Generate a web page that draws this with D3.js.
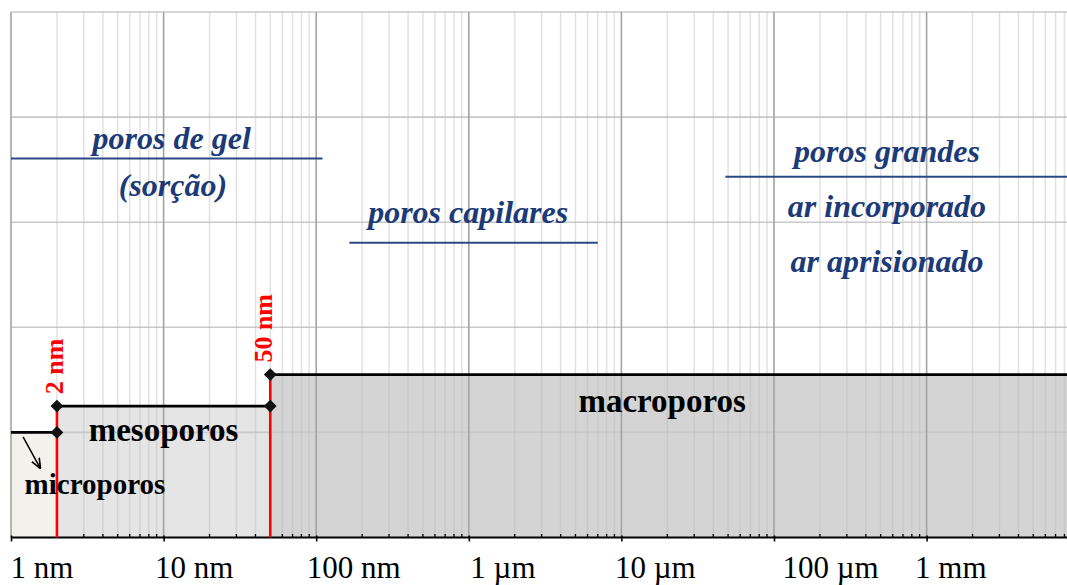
<!DOCTYPE html>
<html>
<head>
<meta charset="utf-8">
<script src="https://cdn.jsdelivr.net/npm/d3@7"></script>
<style>
  html, body { margin: 0; padding: 0; background: #ffffff; }
  svg { display: block; }
</style>
</head>
<body>
<svg id="chart" width="1067" height="585"></svg>
<script>
// Pore size classes (sizes in nm) and the step height of each band
const classNames  = ["microporos", "mesoporos", "macroporos"];
const classStart  = [1, 2, 50];
const classEnd    = [2, 50, 1e7];
const classLevel  = [1, 1.25, 1.55];
const classFill   = ["#f2f1eb", "#e5e5e5", "#d4d4d4"];

// Class boundaries marked in red
const boundaryValues = [2, 50];
const boundaryLabels = ["2 nm", "50 nm"];

// Axis ticks
const tickValues = [1, 10, 100, 1e3, 1e4, 1e5, 1e6];
const tickLabels = ["1 nm", "10 nm", "100 nm", "1 µm", "10 µm", "100 µm", "1 mm"];

// Descriptive zones (underlined titles in blue)
const zoneNames = ["poros de gel", "poros capilares", "poros grandes"];
const zoneFrom  = [1, 165, 48000];
const zoneTo    = [110, 7000, 1e7];

const svg = d3.select("#chart");
const W = 1067, H = 585;
const x0 = 11, decade = 152.6;

const x = d3.scaleLog().domain([1, 1e7]).range([x0, x0 + 7 * decade]);
const y = d3.scaleLinear().domain([0, 5]).range([537.5, 12]);

const serif = "'Liberation Serif', 'Times New Roman', serif";
const blue = "#1c3a78";

const plot = svg.append("g");
plot.append("clipPath").attr("id", "clip")
  .append("rect").attr("x", 0).attr("y", 0).attr("width", W).attr("height", H);

// Bands
plot.selectAll("rect.band")
  .data(classNames.map((n, i) => ({ n, s: classStart[i], e: classEnd[i], v: classLevel[i], f: classFill[i] })))
  .join("rect")
  .attr("class", "band")
  .attr("x", d => x(d.s))
  .attr("width", d => Math.min(x(d.e), W) - x(d.s))
  .attr("y", d => y(d.v))
  .attr("height", d => y(0) - y(d.v))
  .attr("fill", d => d.f);

// Grid: minor and major verticals, horizontal lines
const allTicks = [];
for (let p = 0; p < 7; p++) {
  for (let m = 1; m <= 9; m++) allTicks.push(m * Math.pow(10, p));
}
const majors = allTicks.filter(v => Math.abs(Math.log10(v) - Math.round(Math.log10(v))) < 1e-9);
const minors = allTicks.filter(v => !majors.includes(v));

const grid = plot.append("g").attr("clip-path", "url(#clip)");
grid.selectAll("line.hgrid")
  .data(d3.range(1, 6))
  .join("line")
  .attr("x1", x0).attr("x2", W)
  .attr("y1", d => y(d)).attr("y2", d => y(d))
  .attr("stroke", "#c9c9c9").attr("stroke-width", 1.6);
grid.selectAll("line.minor")
  .data(minors)
  .join("line")
  .attr("x1", d => x(d)).attr("x2", d => x(d))
  .attr("y1", y(5)).attr("y2", y(0))
  .attr("stroke", "#bdbdbd").attr("stroke-opacity", 0.45).attr("stroke-width", 1.5);
grid.selectAll("line.major")
  .data(majors)
  .join("line")
  .attr("x1", d => x(d)).attr("x2", d => x(d))
  .attr("y1", y(5)).attr("y2", y(0))
  .attr("stroke", "#a3a3a3").attr("stroke-width", 1.6);

// Bottom axis: major ticks outward, minor ticks inward
const axisG = plot.append("g").attr("transform", `translate(0,${y(0)})`);
axisG.call(d3.axisBottom(x).tickValues(tickValues)
  .tickFormat((d, i) => tickLabels[i]).tickSizeInner(4).tickSizeOuter(0).tickPadding(0));
axisG.select(".domain").remove();
axisG.append("line").attr("x1", x0).attr("x2", W).attr("y1", 0).attr("y2", 0)
  .attr("stroke", "#000").attr("stroke-width", 2.2);
axisG.selectAll(".tick line").attr("stroke", "#000").attr("stroke-width", 1.6).attr("y1", -2);
axisG.selectAll(".minorTick")
  .data(minors.filter(v => v <= 1e7))
  .join("line")
  .attr("x1", d => x(d)).attr("x2", d => x(d))
  .attr("y1", 0).attr("y2", -3.5)
  .attr("stroke", "#000").attr("stroke-width", 1.3);
const labelNudge = [-1, -9, -10, 1, -7, 8, -12];
axisG.selectAll(".tick text")
  .attr("font-family", serif).attr("font-size", 31).attr("fill", "#000")
  .attr("text-anchor", "start")
  .attr("y", 40).attr("dy", 0)
  .attr("dx", (d, i) => labelNudge[i]);

// Red boundary lines, up to the level of the class that begins there
const levelAt = v => classLevel[classStart.indexOf(v)];
plot.selectAll("line.boundary")
  .data(boundaryValues)
  .join("line")
  .attr("x1", d => x(d)).attr("x2", d => x(d))
  .attr("y1", y(0)).attr("y2", d => y(levelAt(d)))
  .attr("stroke", "#ff0000").attr("stroke-width", 2.6);

// Step lines for each class
plot.append("g").attr("clip-path", "url(#clip)")
  .selectAll("line.step")
  .data(classNames.map((n, i) => i))
  .join("line")
  .attr("x1", i => x(classStart[i])).attr("x2", i => x(classEnd[i]))
  .attr("y1", i => y(classLevel[i])).attr("y2", i => y(classLevel[i]))
  .attr("stroke", "#000").attr("stroke-width", 2.6);

// Diamond markers at the inner class limits
const markers = [];
classNames.forEach((n, i) => {
  if (classStart[i] > x.domain()[0]) markers.push([classStart[i], classLevel[i]]);
  if (classEnd[i] < x.domain()[1]) markers.push([classEnd[i], classLevel[i]]);
});
plot.selectAll("path.marker")
  .data(markers)
  .join("path")
  .attr("d", d3.symbol(d3.symbolSquare).size(82)())
  .attr("transform", d => `translate(${x(d[0])},${y(d[1])}) rotate(45)`)
  .attr("fill", "#111");

// Red boundary labels, vertical
const boundaryNudge = [6, 2];
plot.selectAll("text.boundary")
  .data(boundaryValues)
  .join("text")
  .attr("transform", (d, i) => `translate(${x(d) + boundaryNudge[i]},${y(levelAt(d)) - 12}) rotate(-90)`)
  .attr("font-family", serif).attr("font-weight", "bold").attr("font-size", 26)
  .attr("fill", "#ff0000").attr("text-anchor", "start")
  .text((d, i) => boundaryLabels[i]);

// Class names
const classLabelPos = [[3.55, 0.41, 29], [10, 0.92, 33], [18500, 1.19, 33]];
plot.selectAll("text.cls")
  .data(classNames)
  .join("text")
  .attr("x", (d, i) => x(classLabelPos[i][0]))
  .attr("y", (d, i) => y(classLabelPos[i][1]))
  .attr("font-family", serif).attr("font-weight", "bold")
  .attr("font-size", (d, i) => classLabelPos[i][2])
  .attr("text-anchor", "middle").attr("fill", "#000")
  .text(d => d);

// Arrow pointing into the micropore band
svg.append("defs").append("marker")
  .attr("id", "arrow").attr("viewBox", "0 0 10 10").attr("refX", 9).attr("refY", 5)
  .attr("markerWidth", 7).attr("markerHeight", 7).attr("orient", "auto")
  .append("path").attr("d", "M0,1 L10,5 L0,9").attr("fill", "none")
  .attr("stroke", "#000").attr("stroke-width", 1.6);
plot.append("line")
  .attr("x1", x(1.2)).attr("y1", y(0.957))
  .attr("x2", x(1.55)).attr("y2", y(0.662))
  .attr("stroke", "#000").attr("stroke-width", 1.5)
  .attr("marker-end", "url(#arrow)");

// Zone underlines
const zoneLineLevel = [3.605, 2.805, 3.433];
plot.append("g").attr("clip-path", "url(#clip)")
  .selectAll("line.zone")
  .data(zoneNames.map((n, i) => i))
  .join("line")
  .attr("x1", i => x(zoneFrom[i])).attr("x2", i => x(zoneTo[i]))
  .attr("y1", i => y(zoneLineLevel[i])).attr("y2", i => y(zoneLineLevel[i]))
  .attr("stroke", "#2b4884").attr("stroke-width", 2);

// Zone texts
const zoneTexts = [
  { t: "poros de gel",   at: 11.3,  v: 3.70 },
  { t: "(sorção)",       at: 11.5,  v: 3.25 },
  { t: "poros capilares", at: 990,  v: 2.99 },
  { t: "poros grandes",  at: 5.5e5, v: 3.57 },
  { t: "ar incorporado", at: 5.5e5, v: 3.05 },
  { t: "ar aprisionado", at: 5.5e5, v: 2.53 }
];
plot.selectAll("text.zone")
  .data(zoneTexts)
  .join("text")
  .attr("x", d => x(d.at)).attr("y", d => y(d.v))
  .attr("font-family", serif).attr("font-weight", "bold").attr("font-style", "italic")
  .attr("font-size", 32).attr("text-anchor", "middle").attr("fill", blue)
  .text(d => d.t);
</script>
</body>
</html>
